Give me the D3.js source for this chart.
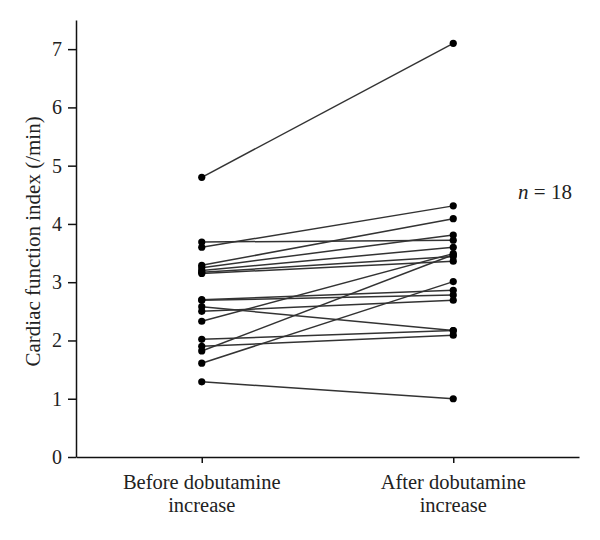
<!DOCTYPE html>
<html>
<head>
<meta charset="utf-8">
<script src="https://cdn.jsdelivr.net/npm/d3@7"></script>
<style>
  body { margin: 0; background: #fff; }
  text { font-family: "Liberation Serif", "DejaVu Serif", serif; fill: #222; }
</style>
</head>
<body>
<div id="chart"></div>
<script>
// data
var groups = ["Before dobutamine increase", "After dobutamine increase"];
var groupLines = [["Before dobutamine", "increase"], ["After dobutamine", "increase"]];
var before = [4.80, 3.69, 3.60, 3.29, 3.25, 3.20, 3.17, 3.15, 2.70, 2.69, 2.58, 2.50, 2.33, 2.02, 1.90, 1.82, 1.61, 1.29];
var after  = [7.10, 3.72, 4.31, 4.09, 3.81, 3.60, 3.44, 3.36, 2.86, 2.78, 2.17, 2.69, 3.49, 2.17, 2.09, 3.47, 3.01, 1.00];
var yTicks = [0, 1, 2, 3, 4, 5, 6, 7];

var svg = d3.select("#chart")
  .append("svg")
    .attr("width", 600)
    .attr("height", 540);

var x = d3.scalePoint()
  .domain(groups)
  .range([76, 579])
  .padding(0.5);

var y = d3.scaleLinear()
  .domain([0, 7.5])
  .range([457, 20]);

// axes
var yAxis = svg.append("g")
  .attr("transform", "translate(76,0)")
  .call(d3.axisLeft(y).tickValues(yTicks).tickSize(8).tickPadding(6).tickSizeOuter(0));

var xAxis = svg.append("g")
  .attr("transform", "translate(0,457)")
  .call(d3.axisBottom(x).tickSize(6).tickSizeOuter(0).tickFormat(""));

svg.selectAll(".domain, .tick line")
  .attr("stroke", "#111")
  .attr("stroke-width", 1.5);

yAxis.selectAll("text")
  .style("font-size", "20px")
  .style("font-family", "Liberation Serif, serif")
  .attr("fill", "#222");

// two-line category labels
groups.forEach(function(g, i) {
  var t = svg.append("text")
    .attr("x", x(g))
    .attr("y", 489)
    .attr("text-anchor", "middle")
    .style("font-size", "20.5px");
  groupLines[i].forEach(function(line, j) {
    t.append("tspan")
      .attr("x", x(g))
      .attr("dy", j == 0 ? 0 : 23)
      .text(line);
  });
});

// y label
svg.append("text")
  .attr("transform", "translate(40," + y(3.7) + ")rotate(-90)")
  .attr("text-anchor", "middle")
  .style("font-size", "21px")
  .text("Cardiac function index (/min)");

// n = 18
var nt = svg.append("text")
  .attr("x", 545)
  .attr("y", 199)
  .attr("text-anchor", "middle")
  .style("font-size", "21px");
nt.append("tspan").style("font-style", "italic").text("n");
nt.append("tspan").text(" = 18");

// paired lines
var pairs = before.map(function(b, i) { return {before: b, after: after[i]}; });

svg.selectAll(".pair")
  .data(pairs)
  .enter()
  .append("line")
    .attr("class", "pair")
    .attr("x1", x(groups[0]))
    .attr("y1", function(d) { return y(d.before); })
    .attr("x2", x(groups[1]))
    .attr("y2", function(d) { return y(d.after); })
    .attr("stroke", "#333")
    .attr("stroke-width", 1.5);

svg.selectAll(".dotB")
  .data(before)
  .enter()
  .append("circle")
    .attr("cx", x(groups[0]))
    .attr("cy", function(d) { return y(d); })
    .attr("r", 3.6)
    .attr("fill", "#000");

svg.selectAll(".dotA")
  .data(after)
  .enter()
  .append("circle")
    .attr("cx", x(groups[1]))
    .attr("cy", function(d) { return y(d); })
    .attr("r", 3.6)
    .attr("fill", "#000");
</script>
</body>
</html>
